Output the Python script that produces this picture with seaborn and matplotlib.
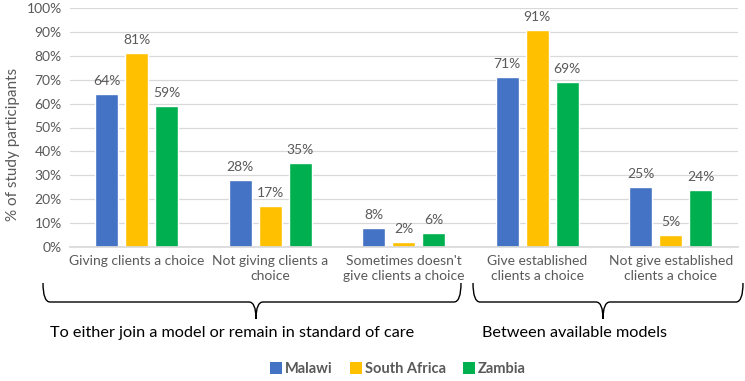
import matplotlib
matplotlib.use("Agg")
import matplotlib.pyplot as plt
import seaborn as sns
import pandas as pd
from matplotlib.path import Path
from matplotlib.patches import PathPatch, Patch

categories = ["Giving clients a choice", "Not giving clients a\nchoice",
              "Sometimes doesn't\ngive clients a choice", "Give established\nclients a choice",
              "Not give established\nclients a choice"]
countries = ["Malawi", "South Africa", "Zambia"]
malawi = [64, 28, 8, 71, 25]
south_africa = [81, 17, 2, 91, 5]
zambia = [59, 35, 6, 69, 24]
colors = ["#4472C4", "#FFC000", "#00B050"]
yticks = [0, 10, 20, 30, 40, 50, 60, 70, 80, 90, 100]
group_labels = ["To either join a model or remain in standard of care", "Between available models"]

rows = []
for c, vals in zip(countries, [malawi, south_africa, zambia]):
    for cat, v in zip(categories, vals):
        rows.append({"category": cat, "country": c, "value": v})
df = pd.DataFrame(rows)

sns.set_theme(style="white")
plt.rcParams["font.family"] = ["Lato", "DejaVu Sans"]
TXT = "#595959"

W, H = 745, 381
fig = plt.figure(figsize=(W / 100, H / 100), dpi=100)
ax = fig.add_axes([70 / W, 1 - 247 / H, (737.5 - 70) / W, (247 - 8) / H])

sns.barplot(data=df, x="category", y="value", hue="country", order=categories,
            hue_order=countries, palette=colors, width=0.672, gap=0.23,
            saturation=1, ax=ax, legend=False)

for cont in ax.containers:
    ax.bar_label(cont, labels=[f"{int(round(b.get_height()))}%" for b in cont],
                 padding=5, fontsize=10, color=TXT)

ax.set_ylim(0, 100)
ax.set_xlim(-0.5, 4.5)
ax.set_yticks(yticks)
ax.set_yticklabels([f"{t}%" for t in yticks], fontsize=10, color=TXT)
ax.yaxis.grid(True, color="#D9D9D9", linewidth=0.9)
ax.set_axisbelow(True)
for s in ["top", "right", "left"]:
    ax.spines[s].set_visible(False)
ax.spines["bottom"].set_color("#D9D9D9")
ax.tick_params(axis="both", length=0, pad=6)
ax.set_xticks(range(len(categories)))
ax.set_xticklabels(categories, fontsize=10, color=TXT, linespacing=1.3)
ax.set_xlabel("")
ax.set_ylabel("% of study participants", fontsize=11, color=TXT)
ax.yaxis.set_label_coords(-50 / 667.5, 0.43)


def fx(x):
    return x / W


def fy(y):
    return 1 - y / H


def brace(x0, x1, xm, ytop=283, ymid=302, ytip=319, r=7):
    pts = [(x0, ytop), (x0, ymid), (x0 + r, ymid), (xm - r, ymid), (xm, ymid), (xm, ytip),
           (xm, ymid), (xm + r, ymid), (x1 - r, ymid), (x1, ymid), (x1, ytop)]
    codes = [Path.MOVETO, Path.CURVE3, Path.CURVE3, Path.LINETO, Path.CURVE3, Path.CURVE3,
             Path.CURVE3, Path.CURVE3, Path.LINETO, Path.CURVE3, Path.CURVE3]
    verts = [(fx(a), fy(b)) for a, b in pts]
    p = PathPatch(Path(verts, codes), fill=False, edgecolor="black", linewidth=1.0,
                  transform=fig.transFigure)
    fig.add_artist(p)


brace(43, 461, 256)
brace(473, 743, 603)

fig.text(fx(50), fy(333), group_labels[0], fontsize=11.7, color="black", va="center", ha="left")
fig.text(fx(482), fy(333), group_labels[1], fontsize=11.7, color="black", va="center", ha="left")

handles = [Patch(facecolor=c, edgecolor="none") for c in colors]
leg = fig.legend(handles, countries, loc="center", bbox_to_anchor=(fx(398), fy(369)),
                 ncol=3, frameon=False, handlelength=0.8, handleheight=0.8,
                 handletextpad=0.2, columnspacing=1.2,
                 prop={"weight": "bold", "size": 10.5})
for t in leg.get_texts():
    t.set_color(TXT)

fig.savefig("out.png", dpi=100)
